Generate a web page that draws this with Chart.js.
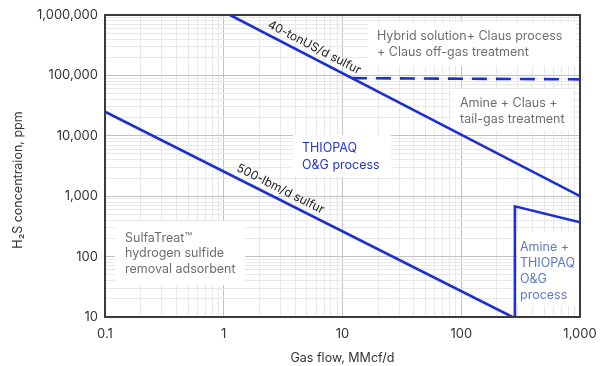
<!DOCTYPE html>
<html>
<head>
<meta charset="utf-8">
<script src="https://cdn.jsdelivr.net/npm/chart.js@4.4.0/dist/chart.umd.min.js"></script>
<style>
  html, body { margin: 0; padding: 0; background: #fff; }
</style>
</head>
<body>
<canvas id="chart" width="603" height="366"></canvas>
<script>
const xTicks = [0.1, 1, 10, 100, 1000];
const yTicks = [10, 100, 1000, 10000, 100000, 1000000];

// 40-tonUS/d sulfur
const ton40Flow = [1.13, 1000];
const ton40Ppm = [1000000, 1000];
// 500-lbm/d sulfur
const lbm500Flow = [0.1, 270];
const lbm500Ppm = [25000, 10];
// dashed limit, hybrid solution
const hybridFlow = [12, 1000];
const hybridPpm = [90000, 86000];
// amine + THIOPAQ region
const amineFlow = [283, 283, 1000];
const aminePpm = [10, 680, 370];

const BLUE = '#1c2fd2';
const FONT = 'Inter, "Noto Sans", sans-serif';

const pts = (xs, ys) => xs.map((x, i) => ({ x, y: ys[i] }));

const isDecade = v => Math.abs(Math.log10(v) - Math.round(Math.log10(v))) < 1e-9;

const logTicks = list => {
  const out = [];
  for (let i = 0; i < list.length - 1; i++) {
    for (let m = 1; m < 10; m++) out.push(Number((list[i] * m).toPrecision(6)));
  }
  out.push(list[list.length - 1]);
  return out.map(value => ({ value }));
};

const notes = [
  { lines: ['Hybrid solution+ Claus process', '+ Claus off-gas treatment'], x: 377, y: 36, lh: 16, color: '#6e6e6e', box: [368, 22, 208, 44] },
  { lines: ['Amine + Claus +', 'tail-gas treatment'], x: 460, y: 103, lh: 16, color: '#6e6e6e', box: [452, 89, 120, 42] },
  { lines: ['THIOPAQ', 'O&G process'], x: 302, y: 148, lh: 17, color: '#2435cf', box: [293, 135, 98, 42] },
  { lines: ['SulfaTreat™', 'hydrogen sulfide', 'removal adsorbent'], x: 125, y: 238, lh: 15.5, color: '#6e6e6e', box: [115, 221, 130, 64] },
  { lines: ['Amine +', 'THIOPAQ', 'O&G', 'process'], x: 520, y: 247, lh: 16, color: '#5a7cc6', box: [517, 232, 62, 74] },
];

const lineLabels = [
  { text: '40-tonUS/d sulfur', dataset: 0, at: 5.3 },
  { text: '500-lbm/d sulfur', dataset: 1, at: 2.75 },
];

const annotate = {
  id: 'annotate',
  beforeDatasetsDraw(chart) {
    const { ctx } = chart;
    ctx.save();
    ctx.font = `12.5px ${FONT}`;
    ctx.textBaseline = 'middle';
    ctx.textAlign = 'left';
    notes.forEach(n => {
      ctx.fillStyle = '#fff';
      ctx.fillRect(...n.box);
      ctx.fillStyle = n.color;
      n.lines.forEach((t, i) => ctx.fillText(t, n.x, n.y + i * n.lh));
    });
    ctx.restore();
  },
  afterDraw(chart) {
    const { ctx, chartArea: a, scales } = chart;
    ctx.save();
    // frame
    ctx.strokeStyle = '#3a3a3a';
    ctx.lineWidth = 2;
    ctx.strokeRect(a.left, a.top, a.right - a.left, a.bottom - a.top);

    // labels along the sulfur lines
    ctx.font = `12px ${FONT}`;
    ctx.fillStyle = '#222';
    ctx.textAlign = 'center';
    ctx.textBaseline = 'middle';
    lineLabels.forEach(l => {
      const ds = chart.data.datasets[l.dataset].data;
      const p0 = { x: scales.x.getPixelForValue(ds[0].x), y: scales.y.getPixelForValue(ds[0].y) };
      const p1 = { x: scales.x.getPixelForValue(ds[1].x), y: scales.y.getPixelForValue(ds[1].y) };
      const ang = Math.atan2(p1.y - p0.y, p1.x - p0.x);
      const px = scales.x.getPixelForValue(l.at);
      const t = (px - p0.x) / (p1.x - p0.x);
      const py = p0.y + t * (p1.y - p0.y);
      ctx.save();
      ctx.translate(px + Math.sin(ang) * 10, py - Math.cos(ang) * 10);
      ctx.rotate(ang);
      ctx.fillText(l.text, 0, 0);
      ctx.restore();
    });

    // axis titles
    ctx.font = `12.5px ${FONT}`;
    ctx.fillStyle = '#333';
    ctx.fillText('Gas flow, MMcf/d', (a.left + a.right) / 2, 358);
    ctx.translate(18, 180);
    ctx.rotate(-Math.PI / 2);
    ctx.fillText('H₂S concentraion, ppm', 0, 0);
    ctx.restore();
  },
};

const gridColor = c => (c.tick && isDecade(c.tick.value) ? '#c2c2c2' : '#e8e8e8');

new Chart(document.getElementById('chart'), {
  type: 'scatter',
  data: {
    datasets: [
      { data: pts(ton40Flow, ton40Ppm), borderColor: BLUE, borderWidth: 2.6, showLine: true, pointRadius: 0 },
      { data: pts(lbm500Flow, lbm500Ppm), borderColor: BLUE, borderWidth: 2.6, showLine: true, pointRadius: 0 },
      { data: pts(hybridFlow, hybridPpm), borderColor: BLUE, borderWidth: 2.6, borderDash: [15, 9], showLine: true, pointRadius: 0 },
      { data: pts(amineFlow, aminePpm), borderColor: BLUE, borderWidth: 2.6, showLine: true, pointRadius: 0 },
    ],
  },
  options: {
    responsive: false,
    animation: false,
    devicePixelRatio: 1,
    layout: { padding: { top: 15, right: 23, left: 0, bottom: 0 } },
    plugins: { legend: { display: false }, tooltip: { enabled: false } },
    scales: {
      x: {
        type: 'logarithmic',
        min: xTicks[0],
        max: xTicks[xTicks.length - 1],
        afterBuildTicks: scale => { scale.ticks = logTicks(xTicks); },
        afterFit: scale => {
          scale.height = 49;
          scale.paddingLeft = 0;
          scale.paddingRight = 0;
        },
        border: { display: false },
        grid: { color: gridColor, drawTicks: false, lineWidth: 1 },
        ticks: {
          autoSkip: false,
          maxRotation: 0,
          padding: 9,
          color: '#333',
          font: { family: FONT, size: 13 },
          callback: v => (isDecade(v) ? v.toLocaleString('en-US') : ''),
        },
      },
      y: {
        type: 'logarithmic',
        min: yTicks[0],
        max: yTicks[yTicks.length - 1],
        afterBuildTicks: scale => { scale.ticks = logTicks(yTicks); },
        afterFit: scale => {
          scale.width = 105;
          scale.paddingTop = 0;
          scale.paddingBottom = 0;
        },
        border: { display: false },
        grid: { color: gridColor, drawTicks: false, lineWidth: 1 },
        ticks: {
          autoSkip: false,
          padding: 7,
          color: '#333',
          font: { family: FONT, size: 13 },
          callback: v => (isDecade(v) ? v.toLocaleString('en-US') : ''),
        },
      },
    },
  },
  plugins: [annotate],
});
</script>
</body>
</html>
